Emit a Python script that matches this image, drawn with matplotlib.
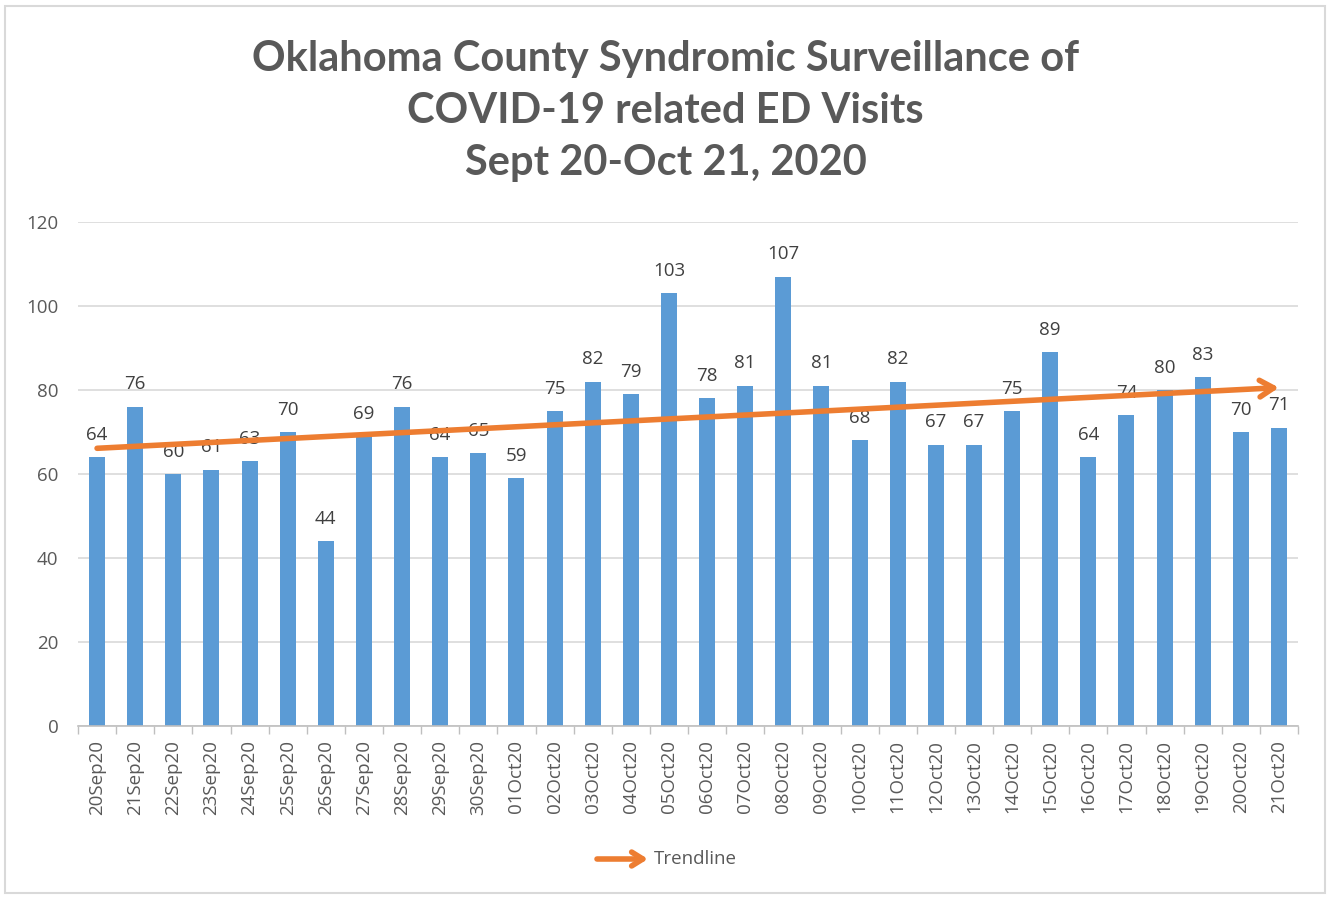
import numpy as np
import matplotlib.pyplot as plt
from matplotlib.patches import Rectangle

# dates and daily ED visit counts
fechas = ["20Sep20", "21Sep20", "22Sep20", "23Sep20", "24Sep20", "25Sep20",
          "26Sep20", "27Sep20", "28Sep20", "29Sep20", "30Sep20", "01Oct20",
          "02Oct20", "03Oct20", "04Oct20", "05Oct20", "06Oct20", "07Oct20",
          "08Oct20", "09Oct20", "10Oct20", "11Oct20", "12Oct20", "13Oct20",
          "14Oct20", "15Oct20", "16Oct20", "17Oct20", "18Oct20", "19Oct20",
          "20Oct20", "21Oct20"]
visitas = [64, 76, 60, 61, 63, 70, 44, 69, 76, 64, 65, 59, 75, 82, 79, 103,
           78, 81, 107, 81, 68, 82, 67, 67, 75, 89, 64, 74, 80, 83, 70, 71]

plt.rcParams['font.family'] = ['Open Sans', 'DejaVu Sans']

azul = '#5b9bd5'
naranja = '#ed7d31'
gris = '#595959'

fig = plt.figure(figsize=(13.31, 8.99), dpi=100)
ax = fig.add_axes([78 / 1331, 1 - 726 / 899, 1220 / 1331, 504 / 899])

x = np.arange(len(visitas))
ax.bar(x, visitas, width=0.42, color=azul, zorder=2)

for xi, v in zip(x, visitas):
    ax.text(xi, v + 3.2, str(v), ha='center', va='bottom',
            fontsize=13.5, color='#404040', zorder=3)

# linear trendline
m, b = np.polyfit(x, visitas, 1)
ax.annotate("", xy=(x[-1], m * x[-1] + b), xytext=(x[0], m * x[0] + b),
            arrowprops=dict(arrowstyle='->,head_length=1.0,head_width=0.6',
                            color=naranja, lw=4, shrinkA=0, shrinkB=0,
                            capstyle='round', joinstyle='round'),
            zorder=4)

ax.set_xlim(-0.5, len(visitas) - 0.5)
ax.set_ylim(0, 120)
ax.set_yticks(range(0, 121, 20))
ax.yaxis.grid(True, color='#d9d9d9', lw=1.2, zorder=0)
ax.set_axisbelow(True)

ax.set_xticks(x)
ax.set_xticklabels(fechas, rotation=90, fontsize=13.5, color=gris)
ax.set_xticks(np.arange(-0.5, len(visitas)), minor=True)
ax.tick_params(axis='x', which='major', length=0, pad=10)
ax.tick_params(axis='x', which='minor', length=6, color='#bfbfbf', width=1)
ax.tick_params(axis='y', length=0, labelsize=13.5, labelcolor=gris, pad=14)

for s in ['top', 'right', 'left']:
    ax.spines[s].set_visible(False)
ax.spines['bottom'].set_color('#bfbfbf')
ax.spines['bottom'].set_linewidth(1.2)

fig.text(0.5, 1 - 111 / 899,
         "Oklahoma County Syndromic Surveillance of\nCOVID-19 related ED Visits\nSept 20-Oct 21, 2020",
         ha='center', va='center', fontsize=30, fontweight='bold',
         color=gris, linespacing=1.45, family=['Lato', 'DejaVu Sans'])

# frame and legend
fig.patches.append(Rectangle((5 / 1331, 6 / 899), 1320 / 1331, 887 / 899,
                             transform=fig.transFigure, fill=False,
                             edgecolor='#d9d9d9', lw=1.5))
ax.annotate("", xy=(648 / 1331, 1 - 859 / 899), xytext=(597 / 1331, 1 - 859 / 899),
            xycoords='figure fraction', textcoords='figure fraction',
            arrowprops=dict(arrowstyle='->,head_length=0.8,head_width=0.5',
                            color=naranja, lw=4, shrinkA=0, shrinkB=0,
                            capstyle='round', joinstyle='round'))
fig.text(654 / 1331, 1 - 859 / 899, "Trendline", ha='left', va='center',
         fontsize=13.5, color=gris)

plt.savefig("out.png", dpi=100)
